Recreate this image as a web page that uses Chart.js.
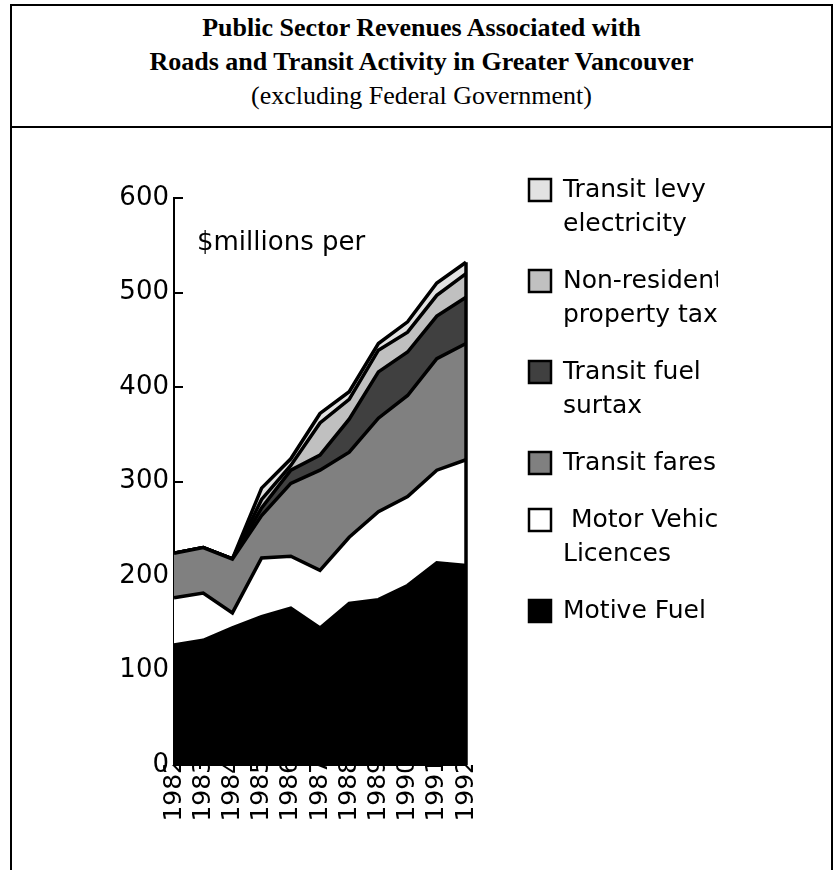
<!DOCTYPE html>
<html>
<head>
<meta charset="utf-8">
<title>Public Sector Revenues - Greater Vancouver</title>
<script src="https://cdn.jsdelivr.net/npm/chart.js@4.4.1/dist/chart.umd.min.js"></script>
<style>
    html, body { margin: 0; padding: 0; background: #fff; overflow: hidden; }
    body { width: 835px; height: 870px; position: relative; }
    #marco { position: absolute; left: 10px; top: 4px; width: 819px; height: 900px; border: 2px solid #000; }
    #separador { position: absolute; left: 10px; top: 126px; width: 823px; border-top: 2px solid #000; }
    #titulo { position: absolute; left: 12px; top: 11px; width: 819px; text-align: center;
              font-family: "Liberation Serif", serif; font-size: 26px; line-height: 34px; color: #000; }
    #titulo .negrita { font-weight: bold; }
    #contenedor { position: absolute; left: 0; top: 129px; width: 835px; height: 702px; }
</style>
</head>
<body>
<div id="marco"></div>
<div id="separador"></div>
<div id="titulo">
    <div class="negrita">Public Sector Revenues Associated with</div>
    <div class="negrita">Roads and Transit Activity in Greater Vancouver</div>
    <div>(excluding Federal Government)</div>
</div>
<div id="contenedor"><canvas id="grafico"></canvas></div>

<script>
// Datos ($ millones por año), de abajo hacia arriba en la pila
const anios = ['1982', '1983', '1984', '1985', '1986', '1987', '1988', '1989', '1990', '1991', '1992'];
const motiveFuel = [127, 132, 145, 157, 166, 145, 171, 175, 190, 214, 211];
const motorVehicleLicences = [50, 50, 16, 62, 55, 61, 70, 93, 94, 98, 112];
const transitFares = [47, 48, 57, 45, 77, 106, 90, 99, 107, 118, 123];
const transitFuelSurtax = [0, 0, 0, 8, 14, 16, 35, 49, 46, 45, 49];
const nonResidentialPropertyTax = [0, 0, 0, 9, 5, 34, 21, 23, 21, 22, 25];
const transitLevyElectricity = [0, 0, 0, 12, 7, 10, 8, 7, 11, 13, 12];

const nombresSeries = ['Motive Fuel', 'Motor Vehicle Licences', 'Transit fares',
                       'Transit fuel surtax', 'Non-residential property tax', 'Transit levy electricity'];
const lineasLeyenda = [['Motive Fuel'], [' Motor Vehicle', 'Licences'], ['Transit fares'],
                       ['Transit fuel', 'surtax'], ['Non-residential', 'property tax'], ['Transit levy', 'electricity']];
const valoresSeries = [motiveFuel, motorVehicleLicences, transitFares,
                       transitFuelSurtax, nonResidentialPropertyTax, transitLevyElectricity];
const coloresSeries = ['#000000', '#ffffff', '#808080', '#404040', '#c0c0c0', '#e2e2e2'];
const marcasY = [0, 100, 200, 300, 400, 500, 600];
const textoUnidades = '$millions per';

const fuente = '"DejaVu Sans", sans-serif';

// Marcas cortas del eje Y, hacia dentro del área
const marcasEjeY = {
    id: 'marcasEjeY',
    beforeDatasetsDraw(chart) {
        const { ctx, chartArea, scales: { y } } = chart;
        ctx.save();
        ctx.strokeStyle = '#000';
        ctx.lineWidth = 2;
        marcasY.forEach(valor => {
            const py = Math.round(y.getPixelForValue(valor));
            ctx.beginPath();
            ctx.moveTo(chartArea.left, py);
            ctx.lineTo(chartArea.left + 9, py);
            ctx.stroke();
        });
        ctx.restore();
    }
};

// Cierre vertical de la pila en el último año
const bordeDerecho = {
    id: 'bordeDerecho',
    afterDatasetsDraw(chart) {
        const { ctx, scales: { x, y } } = chart;
        const ultimo = anios.length - 1;
        const total = valoresSeries.reduce((suma, serie) => suma + serie[ultimo], 0);
        const px = x.getPixelForValue(ultimo);
        ctx.save();
        ctx.strokeStyle = '#000';
        ctx.lineWidth = 3.5;
        ctx.beginPath();
        ctx.moveTo(px, y.getPixelForValue(0));
        ctx.lineTo(px, y.getPixelForValue(total));
        ctx.stroke();
        ctx.restore();
    }
};

const unidades = {
    id: 'unidades',
    afterDraw(chart) {
        const { ctx, chartArea } = chart;
        ctx.save();
        ctx.font = '26px ' + fuente;
        ctx.fillStyle = '#000';
        ctx.textBaseline = 'alphabetic';
        ctx.fillText(textoUnidades, chartArea.left + 23, chartArea.top + 52);
        ctx.restore();
    }
};

// Leyenda a la derecha, en orden inverso, con el texto recortado como en el original
const leyendaLateral = {
    id: 'leyendaLateral',
    afterDraw(chart) {
        const { ctx, chartArea } = chart;
        const xCuadro = chartArea.right + 62;
        const xTexto = chartArea.right + 97;
        const xCorte = chartArea.right + 252;
        let y = chartArea.top - 8;

        ctx.save();
        ctx.font = '25px ' + fuente;
        ctx.textBaseline = 'middle';

        for (let i = chart.data.datasets.length - 1; i >= 0; i--) {
            const dataset = chart.data.datasets[i];

            ctx.fillStyle = dataset.backgroundColor;
            ctx.fillRect(xCuadro + 1, y - 11, 22, 22);
            ctx.strokeStyle = '#000';
            ctx.lineWidth = 2.5;
            ctx.strokeRect(xCuadro + 1, y - 11, 22, 22);

            ctx.save();
            ctx.beginPath();
            ctx.rect(xTexto - 5, y - 30, xCorte - xTexto + 5, 200);
            ctx.clip();
            ctx.fillStyle = '#000';
            lineasLeyenda[i].forEach((linea, n) => {
                ctx.fillText(linea, xTexto, y + n * 34);
            });
            ctx.restore();

            y += lineasLeyenda[i].length * 34 + 23;
        }
        ctx.restore();
    }
};

const datasets = valoresSeries.map((serie, i) => ({
    label: nombresSeries[i],
    data: serie,
    backgroundColor: coloresSeries[i],
    borderColor: '#000',
    borderWidth: 3.5,
    fill: i === 0 ? 'origin' : '-1',
    pointRadius: 0,
    tension: 0
}));

new Chart(document.getElementById('grafico'), {
    type: 'line',
    data: { labels: anios, datasets: datasets },
    options: {
        responsive: true,
        maintainAspectRatio: false,
        animation: false,
        layout: { padding: { top: 69, right: 369, bottom: 0, left: 0 } },
        plugins: {
            legend: { display: false },
            tooltip: { enabled: false }
        },
        scales: {
            x: {
                offset: false,
                grid: { display: false, drawTicks: false },
                border: { display: true, color: '#000', width: 2 },
                ticks: {
                    autoSkip: false,
                    maxRotation: 90,
                    minRotation: 90,
                    padding: -7,
                    color: '#000',
                    font: { family: fuente, size: 25 }
                },
                afterFit: escala => { escala.height = 66; }
            },
            y: {
                stacked: true,
                min: 0,
                max: 600,
                grid: { display: false, drawTicks: false },
                border: { display: true, color: '#000', width: 2 },
                ticks: {
                    stepSize: 100,
                    padding: 5,
                    color: '#000',
                    font: { family: fuente, size: 26 }
                },
                afterFit: escala => { escala.width = 174; }
            }
        }
    },
    plugins: [marcasEjeY, bordeDerecho, unidades, leyendaLateral]
});
</script>
</body>
</html>
